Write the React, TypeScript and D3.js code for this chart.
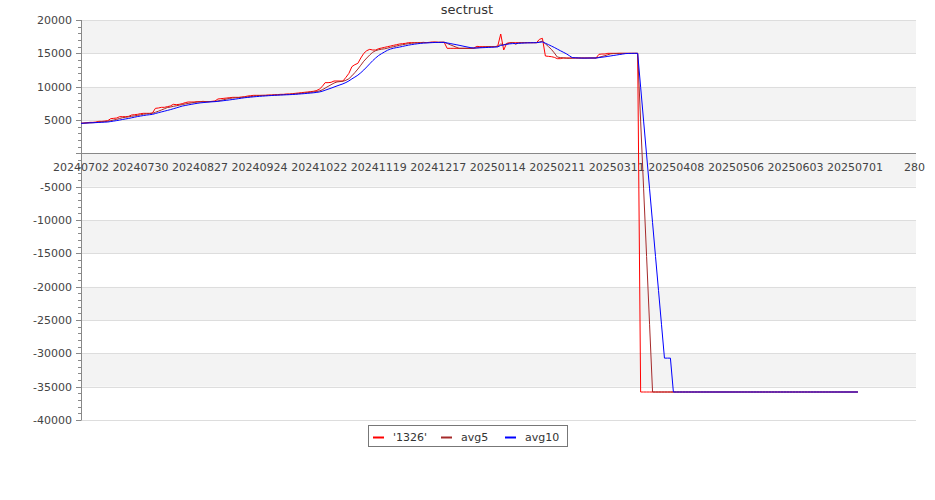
import React from 'react';
import * as d3 from 'd3';

const chartTitle = 'sectrust';
const seriesNames = ["'1326'", 'avg5', 'avg10'];
const seriesColors = ['#ff0000', '#a52a2a', '#0000ff'];
const xTickLabels = [
  '20240702', '20240730', '20240827', '20240924', '20241022', '20241119', '20241217',
  '20250114', '20250211', '20250311', '20250408', '20250506', '20250603', '20250701', '280',
];
const yMajorTicks = [-40000, -35000, -30000, -25000, -20000, -15000, -10000, -5000, 0, 5000, 10000, 15000, 20000];

const raw = [
  4500, 4550, 4600, 4650, 4650, 4700, 4800, 4800, 4850, 4900,
  5200, 5250, 5300, 5500, 5500, 5500, 5550, 5750, 5800, 5850,
  5950, 6000, 6000, 6000, 6050, 6750, 6800, 6900, 6900, 7000,
  7100, 7350, 7300, 7350, 7450, 7600, 7700, 7700, 7700, 7750,
  7750, 7800, 7750, 7750, 7800, 7850, 8150, 8200, 8250, 8300,
  8350, 8400, 8400, 8400, 8450, 8500, 8600, 8650, 8700, 8700,
  8700, 8700, 8700, 8750, 8750, 8800, 8800, 8850, 8850, 8900,
  8900, 8950, 9000, 9050, 9100, 9150, 9200, 9250, 9300, 9400,
  9600, 10000, 10600, 10600, 10650, 10850, 10850, 10850, 10850, 11400,
  12000, 13000, 13300, 13500, 14300, 15000, 15400, 15600, 15500, 15500,
  15700, 15800, 15900, 16000, 16100, 16200, 16300, 16400, 16450, 16500,
  16600, 16600, 16600, 16600, 16600, 16650, 16600, 16650, 16700, 16700,
  16650, 16650, 16650, 15750, 15750, 15750, 15750, 15750, 15750, 15750,
  15750, 15750, 15800, 16050, 16000, 16000, 16000, 16000, 16000, 16000,
  16100, 17900, 15500, 16500, 16600, 16600, 16600, 16600, 16600, 16600,
  16600, 16600, 16600, 16600, 17100, 17250, 14600, 14550, 14500, 14400,
  14200, 14200, 14300, 14300, 14300, 14300, 14300, 14300, 14300, 14300,
  14300, 14300, 14300, 14300, 14850, 14900, 14900, 15000, 15000, 15000,
  15000, 15000, 15000, 15000, 15000, 15000, 15000, 15000, -35800, -35800,
  -35800, -35800, -35800, -35800, -35800, -35800, -35800, -35800, -35800, -35800,
  -35800, -35800, -35800, -35800, -35800, -35800, -35800, -35800, -35800, -35800,
  -35800, -35800, -35800, -35800, -35800, -35800, -35800, -35800, -35800, -35800,
  -35800, -35800, -35800, -35800, -35800, -35800, -35800, -35800, -35800, -35800,
  -35800, -35800, -35800, -35800, -35800, -35800, -35800, -35800, -35800, -35800,
  -35800, -35800, -35800, -35800, -35800, -35800, -35800, -35800, -35800, -35800,
  -35800, -35800, -35800, -35800, -35800, -35800, -35800, -35800, -35800, -35800,
  -35800, -35800,
];

const avg5 = [
  4500, 4525, 4550, 4575, 4590, 4630, 4680, 4720, 4760, 4810,
  4910, 5000, 5100, 5230, 5350, 5410, 5470, 5560, 5620, 5690,
  5780, 5870, 5920, 5960, 6000, 6160, 6320, 6500, 6680, 6870,
  6940, 7050, 7130, 7220, 7310, 7410, 7480, 7560, 7630, 7690,
  7720, 7740, 7750, 7760, 7770, 7790, 7860, 7950, 8050, 8150,
  8250, 8300, 8340, 8370, 8400, 8430, 8470, 8520, 8580, 8630,
  8670, 8690, 8700, 8710, 8720, 8740, 8760, 8790, 8810, 8840,
  8860, 8890, 8920, 8960, 9000, 9050, 9100, 9150, 9200, 9260,
  9350, 9510, 9780, 10040, 10290, 10540, 10710, 10760, 10810, 10960,
  11190, 11620, 12110, 12640, 13220, 13820, 14300, 14760, 15160, 15400,
  15540, 15620, 15680, 15780, 15900, 16000, 16100, 16200, 16290, 16370,
  16450, 16510, 16550, 16580, 16600, 16610, 16610, 16620, 16640, 16660,
  16660, 16670, 16670, 16480, 16290, 16110, 15930, 15750, 15750, 15750,
  15750, 15750, 15760, 15820, 15870, 15920, 15970, 16010, 16000, 16000,
  16020, 16400, 16300, 16400, 16520, 16620, 16360, 16580, 16600, 16600,
  16600, 16600, 16600, 16600, 16700, 16830, 16430, 16020, 15600, 15060,
  14450, 14370, 14320, 14280, 14260, 14280, 14300, 14300, 14300, 14300,
  14300, 14300, 14300, 14300, 14410, 14530, 14650, 14790, 14930, 14960,
  14980, 15000, 15000, 15000, 15000, 15000, 15000, 15000, 4840, -5320,
  -15480, -25640, -35800, -35800, -35800, -35800, -35800, -35800, -35800, -35800,
  -35800, -35800, -35800, -35800, -35800, -35800, -35800, -35800, -35800, -35800,
  -35800, -35800, -35800, -35800, -35800, -35800, -35800, -35800, -35800, -35800,
  -35800, -35800, -35800, -35800, -35800, -35800, -35800, -35800, -35800, -35800,
  -35800, -35800, -35800, -35800, -35800, -35800, -35800, -35800, -35800, -35800,
  -35800, -35800, -35800, -35800, -35800, -35800, -35800, -35800, -35800, -35800,
  -35800, -35800, -35800, -35800, -35800, -35800, -35800, -35800, -35800, -35800,
  -35800, -35800,
];

const avg10 = [
  4500, 4525, 4550, 4575, 4590, 4608, 4636, 4656, 4678, 4700,
  4770, 4840, 4910, 4995, 5080, 5160, 5235, 5330, 5425, 5520,
  5595, 5670, 5740, 5790, 5845, 5970, 6095, 6210, 6320, 6435,
  6550, 6685, 6815, 6950, 7090, 7175, 7265, 7345, 7425, 7500,
  7565, 7610, 7655, 7695, 7730, 7755, 7800, 7850, 7905, 7960,
  8020, 8080, 8145, 8210, 8275, 8340, 8385, 8430, 8475, 8515,
  8550, 8580, 8610, 8645, 8675, 8705, 8725, 8745, 8760, 8780,
  8800, 8825, 8855, 8885, 8920, 8955, 8995, 9035, 9080, 9130,
  9200, 9305, 9465, 9620, 9775, 9945, 10110, 10270, 10425, 10625,
  10865, 11165, 11435, 11725, 12090, 12505, 12960, 13435, 13900, 14310,
  14680, 14960, 15220, 15470, 15650, 15770, 15860, 15940, 16035, 16135,
  16225, 16305, 16375, 16435, 16485, 16530, 16560, 16585, 16610, 16630,
  16635, 16640, 16645, 16560, 16475, 16385, 16300, 16210, 16115, 16020,
  15930, 15840, 15800, 15810, 15830, 15850, 15870, 15890, 15910, 15935,
  15970, 16185, 16250, 16350, 16420, 16460, 16480, 16500, 16520, 16550,
  16570, 16580, 16590, 16600, 16650, 16715, 16515, 16310, 16100, 15880,
  15640, 15400, 15170, 14940, 14660, 14365, 14335, 14310, 14290, 14280,
  14290, 14300, 14300, 14300, 14355, 14415, 14475, 14545, 14615, 14685,
  14755, 14825, 14895, 14965, 14980, 14990, 15000, 15000, 9920, 4840,
  -240, -5320, -10400, -15480, -20560, -25640, -30720, -30720, -30720, -35800,
  -35800, -35800, -35800, -35800, -35800, -35800, -35800, -35800, -35800, -35800,
  -35800, -35800, -35800, -35800, -35800, -35800, -35800, -35800, -35800, -35800,
  -35800, -35800, -35800, -35800, -35800, -35800, -35800, -35800, -35800, -35800,
  -35800, -35800, -35800, -35800, -35800, -35800, -35800, -35800, -35800, -35800,
  -35800, -35800, -35800, -35800, -35800, -35800, -35800, -35800, -35800, -35800,
  -35800, -35800, -35800, -35800, -35800, -35800, -35800, -35800, -35800, -35800,
  -35800, -35800,
];

const seriesData = [raw, avg5, avg10];

export default function App() {
  const W = 935;
  const H = 500;
  const left = 81;
  const right = 916;
  const top = 20;
  const bottom = 420;
  const font = 'DejaVu Sans, sans-serif';

  const x = d3.scaleLinear().domain([0, 280.5]).range([left, right]);
  const y = d3.scaleLinear().domain([-40000, 20000]).range([bottom, top]);

  const minorTicks = d3.range(-40000, 20001, 1000).filter((v) => v % 5000 !== 0);
  const bands = yMajorTicks.slice(0, -1).map((v, i) => ({ lo: v, hi: yMajorTicks[i + 1] }));

  const line = d3
    .line<number>()
    .x((_, i) => x(i))
    .y((d) => y(d));

  const legendItems = [
    { lx: 373, tx: 393 },
    { lx: 441, tx: 461 },
    { lx: 505, tx: 525 },
  ];

  return (
    <svg
      width={W}
      height={H}
      style={{ position: 'absolute', left: 0, top: 0, background: '#fff' }}
      fontFamily={font}
    >
      <rect x={0} y={0} width={W} height={H} fill="#fff" />
      {bands.map((b, i) => {
        const k = bands.length - 1 - i;
        return (
          <rect
            key={'band' + i}
            x={left}
            y={y(b.hi)}
            width={right - left}
            height={y(b.lo) - y(b.hi)}
            fill={k % 2 === 0 ? '#f3f3f3' : '#ffffff'}
          />
        );
      })}
      {yMajorTicks.map((v) => (
        <line
          key={'g' + v}
          x1={left}
          x2={right}
          y1={Math.round(y(v)) + 0.5}
          y2={Math.round(y(v)) + 0.5}
          stroke="#dddddd"
          strokeWidth={1}
        />
      ))}
      {/* axes */}
      <line x1={left + 0.5} x2={left + 0.5} y1={top} y2={bottom + 0.5} stroke="#888" strokeWidth={1} />
      <line
        x1={left}
        x2={right}
        y1={Math.round(y(0)) + 0.5}
        y2={Math.round(y(0)) + 0.5}
        stroke="#888"
        strokeWidth={1}
      />
      {yMajorTicks.map((v) => (
        <line
          key={'mt' + v}
          x1={left - 5}
          x2={left}
          y1={Math.round(y(v)) + 0.5}
          y2={Math.round(y(v)) + 0.5}
          stroke="#888"
        />
      ))}
      {minorTicks.map((v) => (
        <line
          key={'nt' + v}
          x1={left - 3}
          x2={left}
          y1={Math.round(y(v)) + 0.5}
          y2={Math.round(y(v)) + 0.5}
          stroke="#888"
        />
      ))}
      {yMajorTicks
        .filter((v) => v !== 0)
        .map((v) => (
          <text
            key={'yl' + v}
            x={72}
            y={y(v)}
            dy="0.36em"
            textAnchor="end"
            fontSize={11}
            fill="#444"
          >
            {v}
          </text>
        ))}
      {xTickLabels.map((lab, i) => (
        <text key={'xl' + i} x={x(i * 20)} y={171} textAnchor="middle" fontSize={11} fill="#444">
          {lab}
        </text>
      ))}
      {seriesData.map((s, si) => (
        <path
          key={'s' + si}
          d={line(s) || ''}
          fill="none"
          stroke={seriesColors[si]}
          strokeWidth={1}
          strokeLinejoin="round"
        />
      ))}
      <text x={467} y={14} textAnchor="middle" fontSize={13} fill="#333">
        {chartTitle}
      </text>
      <rect x={368.5} y={425.5} width={199} height={21} fill="#fff" stroke="#777" strokeWidth={1} />
      {seriesNames.map((n, i) => (
        <g key={'lg' + i}>
          <line
            x1={legendItems[i].lx}
            x2={legendItems[i].lx + 11}
            y1={437.5}
            y2={437.5}
            stroke={seriesColors[i]}
            strokeWidth={2}
          />
          <text x={legendItems[i].tx} y={441} fontSize={11} fill="#333">
            {n}
          </text>
        </g>
      ))}
    </svg>
  );
}
